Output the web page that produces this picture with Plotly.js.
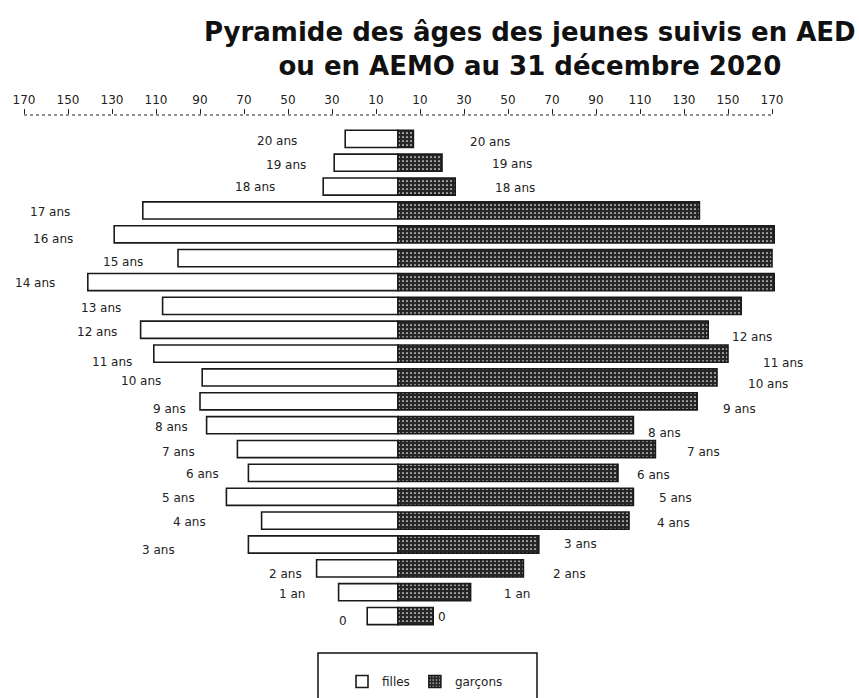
<!DOCTYPE html>
<html>
<head>
<meta charset="utf-8">
<script src="https://cdn.plot.ly/plotly-3.0.1.min.js"></script>
<style>body{margin:0;background:#fff;} #chart{width:859px;height:698px;}</style>
</head>
<body>
<div id="chart"></div>
<script>
// Data (bottom to top)
var ages = ["0","1 an","2 ans","3 ans","4 ans","5 ans","6 ans","7 ans","8 ans","9 ans","10 ans",
            "11 ans","12 ans","13 ans","14 ans","15 ans","16 ans","17 ans","18 ans","19 ans","20 ans"];
var filles  = [14, 27, 37, 68, 62, 78, 68, 73, 87, 90, 89, 111, 117, 107, 141, 100, 129, 116, 34, 29, 24];
var garcons = [16, 33, 57, 64, 105, 107, 100, 117, 107, 136, 145, 150, 141, 156, 171, 170, 171, 137, 26, 20, 7];
var tickVals = [-170,-150,-130,-110,-90,-70,-50,-30,-10,10,30,50,70,90,110,130,150,170];
var tickText = tickVals.map(function(v){return String(Math.abs(v));});

// Label placement (layout only): x in axis units, y shift in px; null = no label
var leftLabelX  = [-25,-48,-51,-109,-95,-100,-89,-100,-103,-104,-117,-130,-137,-135,-165,-125,-157,-158,-65,-51,-55];
var leftLabelDy = [5,2,6,6,1,1,1,3,2,8,4,8,2,2,1,4,5,2,0,2,2];
var rightLabelX  = [20,54,78,83,125,126,116,139,121,155,168,175,161,187,null,193,null,189,53,52,42];
var rightLabelDy = [1,2,6,0,2,1,2,3,8,8,7,9,7,-1,0,-1,0,2,1,1,3];

var negFilles = filles.map(function(v){return -v;});

var traces = [
  {type:'bar', orientation:'h', name:'filles', y:ages, x:negFilles,
   marker:{color:'#ffffff', line:{color:'#1a1a1a', width:1.6}}, hoverinfo:'skip'},
  {type:'bar', orientation:'h', name:'garçons', y:ages, x:garcons,
   marker:{color:'#262626', line:{color:'#1a1a1a', width:1.6},
           pattern:{shape:'.', bgcolor:'#262626', fgcolor:'#ffffff', size:4, solidity:0.15}},
   hoverinfo:'skip'}
];

var labelFont = {family:'DejaVu Sans, sans-serif', size:12, color:'#222'};
var annotations = [];
for (var i = 0; i < ages.length; i++) {
  if (leftLabelX[i] !== null) {
    annotations.push({x:leftLabelX[i], y:ages[i], xref:'x', yref:'y', text:ages[i],
      showarrow:false, yshift:-leftLabelDy[i], font:labelFont, xanchor:'center'});
  }
  if (rightLabelX[i] !== null) {
    annotations.push({x:rightLabelX[i], y:ages[i], xref:'x', yref:'y', text:ages[i],
      showarrow:false, yshift:-rightLabelDy[i], font:labelFont, xanchor:'center'});
  }
}
// Title as annotation
annotations.push({xref:'paper', yref:'paper', x:(530-13)/770, y:(628-15)/513,
  xanchor:'center', yanchor:'top', showarrow:false, align:'center',
  text:'Pyramide des âges des jeunes suivis en AED<br>ou en AEMO au 31 décembre 2020',
  font:{family:'DejaVu Sans, sans-serif', size:26, color:'#111', weight:'bold'}});

var layout = {
  width:859, height:698,
  paper_bgcolor:'#ffffff', plot_bgcolor:'#ffffff',
  margin:{l:13, r:76, t:115, b:70, autoexpand:false},
  barmode:'relative', bargap:0.28,
  showlegend:true,
  xaxis:{side:'top', range:[-175,175], tickvals:tickVals, ticktext:tickText,
         ticks:'outside', ticklen:5, tickcolor:'#222', tickwidth:1,
         showgrid:false, zeroline:false, showline:false,
         tickfont:{family:'DejaVu Sans, sans-serif', size:12, color:'#222'}, fixedrange:true},
  yaxis:{type:'category', range:[-0.5,21], visible:false, fixedrange:true},
  shapes:[
    {type:'line', xref:'x', yref:'paper', x0:-170, x1:170, y0:1, y1:1,
     line:{color:'#222', width:1, dash:'dot'}},
    {type:'rect', xref:'paper', yref:'paper', x0:(318-13)/770, x1:(537-13)/770,
     y0:-0.25, y1:-(653-628)/513, line:{color:'#111', width:1.5}, fillcolor:'rgba(0,0,0,0)'}
  ],
  legend:{orientation:'h', x:(425-13)/770, xanchor:'center', y:-(667-628)/513, yanchor:'top',
          itemwidth:30, font:{family:'DejaVu Sans, sans-serif', size:12, color:'#222'},
          bgcolor:'rgba(0,0,0,0)', borderwidth:0, traceorder:'normal'},
  annotations:annotations
};

Plotly.newPlot('chart', traces, layout, {displayModeBar:false, staticPlot:true});
</script>
</body>
</html>
